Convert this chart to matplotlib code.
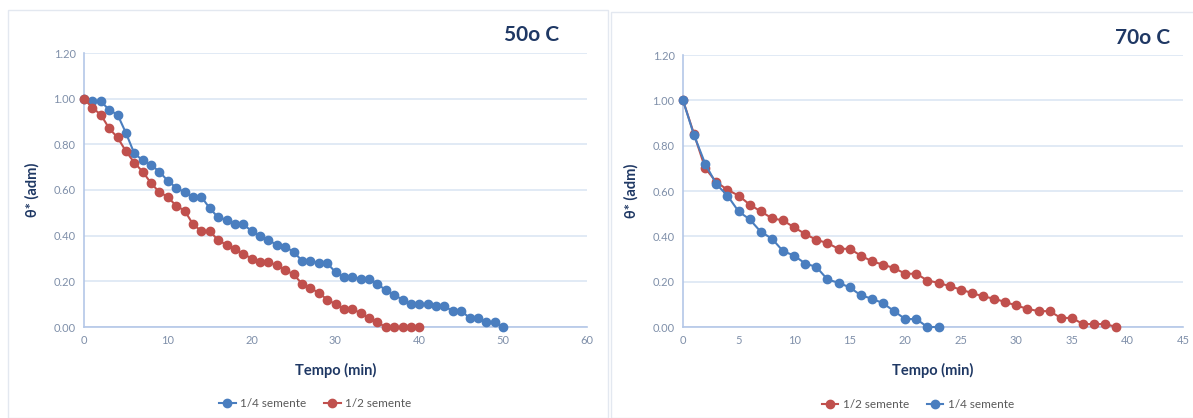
import numpy as np
import matplotlib.pyplot as plt
from matplotlib.patches import Rectangle

plt.rcParams['font.family'] = ['Lato', 'DejaVu Sans']

# 50 C run, one reading per minute
t50_quarter = np.arange(0, 51)
th50_quarter = [1.00, 0.99, 0.99, 0.95, 0.93, 0.85, 0.76, 0.73, 0.71, 0.68,
                0.64, 0.61, 0.59, 0.57, 0.57, 0.52, 0.48, 0.47, 0.45, 0.45,
                0.42, 0.40, 0.38, 0.36, 0.35, 0.33, 0.29, 0.29, 0.28, 0.28,
                0.24, 0.22, 0.22, 0.21, 0.21, 0.19, 0.16, 0.14, 0.12, 0.10,
                0.10, 0.10, 0.09, 0.09, 0.07, 0.07, 0.04, 0.04, 0.02, 0.02,
                0.00]
t50_half = np.arange(0, 41)
th50_half = [1.00, 0.96, 0.93, 0.87, 0.83, 0.77, 0.72, 0.68, 0.63, 0.59,
             0.57, 0.53, 0.51, 0.45, 0.42, 0.42, 0.38, 0.36, 0.34, 0.32,
             0.30, 0.285, 0.285, 0.27, 0.25, 0.23, 0.19, 0.17, 0.15, 0.12,
             0.10, 0.08, 0.08, 0.06, 0.04, 0.02, 0.00, 0.00, 0.00, 0.00,
             0.00]

# 70 C run
t70_half = np.arange(0, 40)
th70_half = [1.00, 0.85, 0.70, 0.64, 0.605, 0.58, 0.54, 0.51, 0.48, 0.47,
             0.44, 0.41, 0.385, 0.37, 0.345, 0.345, 0.315, 0.29, 0.275, 0.26,
             0.235, 0.235, 0.205, 0.195, 0.18, 0.165, 0.15, 0.135, 0.125, 0.11,
             0.095, 0.08, 0.07, 0.07, 0.04, 0.04, 0.013, 0.013, 0.013, 0.00]
t70_quarter = np.arange(0, 24)
th70_quarter = [1.00, 0.845, 0.72, 0.63, 0.58, 0.51, 0.475, 0.42, 0.39, 0.335,
                0.315, 0.28, 0.265, 0.21, 0.195, 0.175, 0.14, 0.125, 0.105, 0.07,
                0.035, 0.035, 0.00, 0.00]

blue = '#4A7EBF'
red = '#C0504D'
navy = '#1F3864'
tickc = '#7F8FA9'
gridc = '#DCE6F4'
axisc = '#B4C7E7'

fig = plt.figure(figsize=(11.93, 4.18), dpi=100)

# chart area outlines
fig.patches.append(Rectangle((8 / 1193, 0), 600 / 1193, 1 - 10 / 418,
                             transform=fig.transFigure, fill=False,
                             ec='#E3E8F0', lw=1))
fig.patches.append(Rectangle((611 / 1193, 0), 590 / 1193, 1 - 12 / 418,
                             transform=fig.transFigure, fill=False,
                             ec='#E3E8F0', lw=1))


def style(ax, xmax, xstep):
    ax.set_xlim(0, xmax)
    ax.set_ylim(0, 1.2)
    ax.set_xticks(np.arange(0, xmax + 1, xstep))
    ax.set_yticks(np.arange(0, 1.21, 0.2))
    ax.set_yticklabels(['%.2f' % v for v in np.arange(0, 1.21, 0.2)])
    ax.grid(axis='y', color=gridc, lw=1.2)
    ax.set_axisbelow(True)
    for s in ['top', 'right']:
        ax.spines[s].set_visible(False)
    for s in ['left', 'bottom']:
        ax.spines[s].set_color(axisc)
        ax.spines[s].set_linewidth(1.2)
    ax.tick_params(length=0, colors=tickc, labelsize=8, pad=6)
    ax.set_xlabel('Tempo (min)', fontsize=10.5, fontweight='bold', color=navy,
                  labelpad=12)
    ax.set_ylabel('θ* (adm)', fontsize=10.5, fontweight='bold', color=navy,
                  labelpad=10)


kw = dict(marker='o', ms=6, lw=1.5, clip_on=False, zorder=3)
legkw = dict(loc='center', ncol=2, frameon=False, fontsize=8.5,
             labelcolor='#595959', handlelength=1.4, columnspacing=1.5,
             handletextpad=0.4)

ax1 = fig.add_axes([84 / 1193, 1 - 327 / 418, 503 / 1193, 274 / 418])
ax1.plot(t50_quarter, th50_quarter, color=blue, label='1/4 semente', **kw)
ax1.plot(t50_half, th50_half, color=red, label='1/2 semente', **kw)
style(ax1, 60, 10)
ax1.text(0.89, 1.03, '50o C', transform=ax1.transAxes, fontsize=15,
         fontweight='bold', color=navy, ha='center', va='bottom')
ax1.legend(bbox_to_anchor=(0.46, -0.28), **legkw)

ax2 = fig.add_axes([683 / 1193, 1 - 327 / 418, 500 / 1193, 272 / 418])
ax2.plot(t70_half, th70_half, color=red, label='1/2 semente', **kw)
ax2.plot(t70_quarter, th70_quarter, color=blue, label='1/4 semente', **kw)
style(ax2, 45, 5)
ax2.text(0.92, 1.025, '70o C', transform=ax2.transAxes, fontsize=15,
         fontweight='bold', color=navy, ha='center', va='bottom')
ax2.legend(bbox_to_anchor=(0.47, -0.285), **legkw)

fig.savefig('out.png', dpi=100)
